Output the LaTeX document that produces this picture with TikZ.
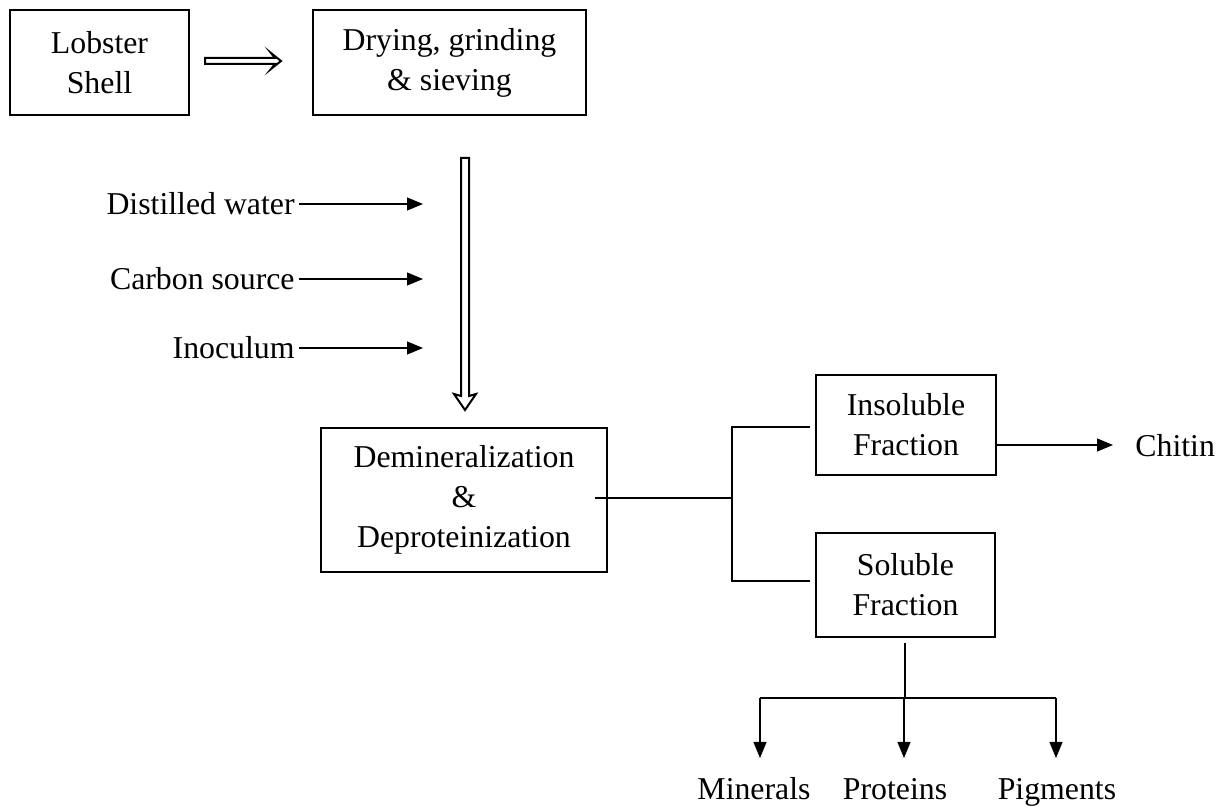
\documentclass[tikz,border=0pt]{standalone}
\usepackage{fontspec}
\setmainfont{Liberation Serif}
\usetikzlibrary{arrows.meta,positioning}
\tikzset{
    box/.style={draw, line width=1.2pt, align=center, inner sep=0pt},
    lbl/.style={align=center, inner sep=2pt},
    thin/.style={line width=0.6pt},
    flow/.style={line width=0.6pt, -{Triangle[length=8pt,width=6.5pt]}},
    hollow/.style={line width=1pt, line join=miter},
}

\begin{document}
\begin{tikzpicture}[x=0.5pt,y=-0.5pt,font=\fontsize{15.9}{20}\selectfont]
\useasboundingbox (0,0) rectangle (1223,807);

\node [box, minimum width=89.5pt, minimum height=52.5pt] (shell) at (99.5,62.5) {Lobster\\Shell};
\node [box, minimum width=136.5pt, minimum height=52.5pt] (drying) at (449.5,62.5) {Drying, grinding\\\& sieving};
\node [box, minimum width=143pt, minimum height=72pt] (demin) at (464,500) {Demineralization\\\&\\Deproteinization};
\node [box, minimum width=90pt, minimum height=50pt] (insol) at (906,425) {Insoluble\\Fraction};
\node [box, minimum width=89.5pt, minimum height=52pt] (sol) at (905.5,585) {Soluble\\Fraction};

% hollow arrows
\coordinate (h1) at (205,61);
\coordinate (h2) at (281,61);
\draw [hollow] (h1) ++(0,-3) -- ++(70,0) -- ++(-4,-5) -- (h2) -- ++(-10,8) -- ++(4,-5) -- ++(-70,0) -- cycle;
\coordinate (v1) at (465,158);
\coordinate (v2) at (465,410);
\draw [hollow] (v1) ++(-4,0) -- ++(0,238) -- ++(-7,-2) -- (v2) -- ++(11,-16) -- ++(-7,2) -- ++(0,-238) -- cycle;

% inputs
\node [lbl, anchor=east] (water) at (299,204) {Distilled water};
\node [lbl, anchor=east] (carbon) at (299,279) {Carbon source};
\node [lbl, anchor=east] (inoc) at (299,348) {Inoculum};
\coordinate (water end) at (423,204);
\coordinate (carbon end) at (423,279);
\coordinate (inoc end) at (423,348);
\draw [flow] (water) -- (water end);
\draw [flow] (carbon) -- (carbon end);
\draw [flow] (inoc) -- (inoc end);

% split
\coordinate (split) at (732,498);
\coordinate (split up) at (732,427);
\coordinate (split down) at (732,581);
\draw [thin] (595,498) -- (split);
\draw [thin] (810,427) -- (split up) -- (split down) -- (810,581);

\node [lbl, anchor=west, inner sep=0pt] (chitin) at (1135,446) {Chitin};
\draw [flow] (insol.east |- 0,445) -- (1113,445);

% products
\node [lbl, anchor=base] (minerals) at (754,800) {Minerals};
\node [lbl, anchor=base] (proteins) at (895,800) {Proteins};
\node [lbl, anchor=base] (pigments) at (1057,800) {Pigments};
\coordinate (bus) at (905,698);
\draw [thin] (905,643) -- (bus);
\draw [thin] (760,698) -- (1056,698);
\draw [flow] (760,698) -- (760,758);
\draw [flow] (904,698) -- (904,758);
\draw [flow] (1056,698) -- (1056,758);

\end{tikzpicture}
\end{document}
